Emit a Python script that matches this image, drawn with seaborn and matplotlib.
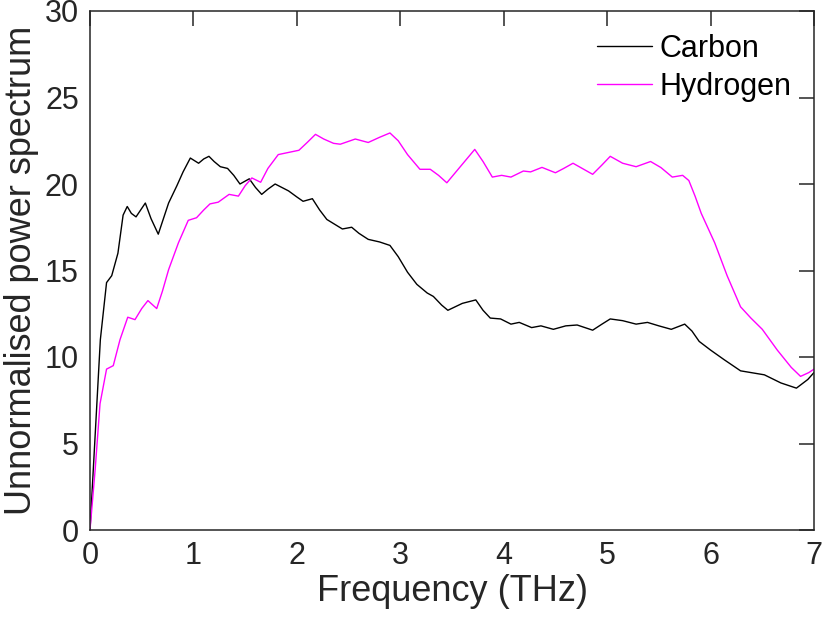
import numpy as np
import pandas as pd
import seaborn as sns
import matplotlib
matplotlib.use("Agg")
import matplotlib.pyplot as plt

# Carbon spectrum (frequency in THz, power)
carbon_freq = [0.0, 0.05, 0.10, 0.16, 0.21, 0.27, 0.32, 0.36, 0.40, 0.445, 0.49, 0.535, 0.59,
               0.66, 0.71, 0.76, 0.84, 0.90, 0.97, 1.05, 1.10, 1.15, 1.20, 1.26, 1.33, 1.39,
               1.45, 1.54, 1.60, 1.66, 1.72, 1.79, 1.92, 2.00, 2.06, 2.15, 2.22, 2.29, 2.44,
               2.53, 2.60, 2.69, 2.80, 2.90, 2.98, 3.07, 3.16, 3.26, 3.32, 3.40, 3.46, 3.60,
               3.73, 3.80, 3.87, 3.97, 4.07, 4.15, 4.27, 4.36, 4.48, 4.60, 4.71, 4.86, 4.95,
               5.03, 5.15, 5.28, 5.39, 5.50, 5.62, 5.75, 5.82, 5.89, 6.00, 6.13, 6.29, 6.52,
               6.68, 6.83, 6.94, 7.0]
carbon_power = [0.0, 5.5, 11.0, 14.3, 14.7, 16.0, 18.2, 18.7, 18.3, 18.1, 18.5, 18.9, 18.0,
                17.1, 18.0, 18.9, 19.9, 20.7, 21.5, 21.2, 21.45, 21.6, 21.3, 21.0, 20.9, 20.5,
                20.0, 20.3, 19.8, 19.4, 19.7, 20.0, 19.6, 19.25, 19.0, 19.15, 18.5, 17.95, 17.4,
                17.5, 17.15, 16.8, 16.65, 16.45, 15.8, 14.9, 14.2, 13.7, 13.5, 13.0, 12.7, 13.1,
                13.3, 12.7, 12.25, 12.2, 11.9, 12.0, 11.7, 11.8, 11.6, 11.8, 11.85, 11.55, 11.9,
                12.2, 12.1, 11.9, 12.0, 11.8, 11.6, 11.9, 11.5, 10.9, 10.4, 9.85, 9.2, 8.97,
                8.5, 8.2, 8.7, 9.1]

# Hydrogen spectrum
hydrogen_freq = [0.0, 0.05, 0.097, 0.16, 0.225, 0.29, 0.365, 0.435, 0.50, 0.56, 0.645, 0.70,
                 0.76, 0.855, 0.95, 1.03, 1.10, 1.16, 1.24, 1.345, 1.435, 1.50, 1.565, 1.65,
                 1.72, 1.82, 2.02, 2.10, 2.18, 2.26, 2.355, 2.42, 2.565, 2.69, 2.80, 2.90, 2.98,
                 3.07, 3.19, 3.29, 3.37, 3.45, 3.58, 3.72, 3.80, 3.89, 3.98, 4.07, 4.19, 4.26,
                 4.37, 4.50, 4.58, 4.67, 4.86, 4.95, 5.03, 5.15, 5.28, 5.42, 5.52, 5.63, 5.73,
                 5.79, 5.85, 5.91, 6.04, 6.16, 6.29, 6.39, 6.50, 6.645, 6.78, 6.87, 6.95, 7.0]
hydrogen_power = [0.0, 3.5, 7.3, 9.3, 9.5, 11.0, 12.3, 12.16, 12.8, 13.26, 12.8, 13.8,
                  15.05, 16.6, 17.9, 18.05, 18.5, 18.85, 18.95, 19.4, 19.3, 19.9, 20.35, 20.1,
                  20.9, 21.7, 21.95, 22.4, 22.87, 22.6, 22.35, 22.3, 22.6, 22.4, 22.7, 22.95,
                  22.5, 21.7, 20.85, 20.85, 20.5, 20.07, 21.0, 22.0, 21.3, 20.4, 20.5, 20.4,
                  20.75, 20.7, 20.96, 20.65, 20.9, 21.2, 20.56, 21.1, 21.6, 21.2, 21.0, 21.3,
                  20.95, 20.4, 20.5, 20.2, 19.3, 18.3, 16.6, 14.7, 12.9, 12.25, 11.6, 10.4,
                  9.4, 8.88, 9.1, 9.3]

series_names = ["Carbon", "Hydrogen"]
series_colors = ["#000000", "#FF00FF"]

xticks = [0, 1, 2, 3, 4, 5, 6, 7]
yticks = [0, 5, 10, 15, 20, 25, 30]

df = pd.concat([
    pd.DataFrame({"freq": carbon_freq, "power": carbon_power, "species": series_names[0]}),
    pd.DataFrame({"freq": hydrogen_freq, "power": hydrogen_power, "species": series_names[1]}),
], ignore_index=True)

sns.set_theme(style="white")
plt.rcParams["font.family"] = ["Liberation Sans", "DejaVu Sans"]

fig = plt.figure(figsize=(8.22, 6.27), dpi=100)
ax = fig.add_axes([90 / 822, (627 - 530) / 627, (814 - 90) / 822, (530 - 11) / 627])

sns.lineplot(data=df, x="freq", y="power", hue="species", hue_order=series_names,
             palette=series_colors, estimator=None, sort=False, linewidth=1.0, ax=ax)

ax.set_xlim(0, 7)
ax.set_ylim(0, 30)
ax.set_xticks(xticks)
ax.set_yticks(yticks)
text_color = "#262626"
for s in ax.spines.values():
    s.set_visible(True)
    s.set_color(text_color)
    s.set_linewidth(1.1)
ax.tick_params(direction="in", length=11, width=1.1, color=text_color,
               top=True, right=True, labelsize=22, labelcolor=text_color)
ax.tick_params(axis="x", pad=8)
ax.tick_params(axis="y", pad=8)
ax.set_xlabel("Frequency (THz)", fontsize=26, color=text_color, labelpad=2)
ax.set_ylabel("Unnormalised power spectrum", fontsize=26, color=text_color, labelpad=4)

leg = ax.legend(loc="upper right", frameon=False, fontsize=22, handlelength=1.8,
                handletextpad=0.25, labelspacing=0.25, borderaxespad=0.3,
                bbox_to_anchor=(0.998, 0.997))
for t in leg.get_texts():
    t.set_color("black")

fig.savefig("out.png", dpi=100, facecolor="white")
